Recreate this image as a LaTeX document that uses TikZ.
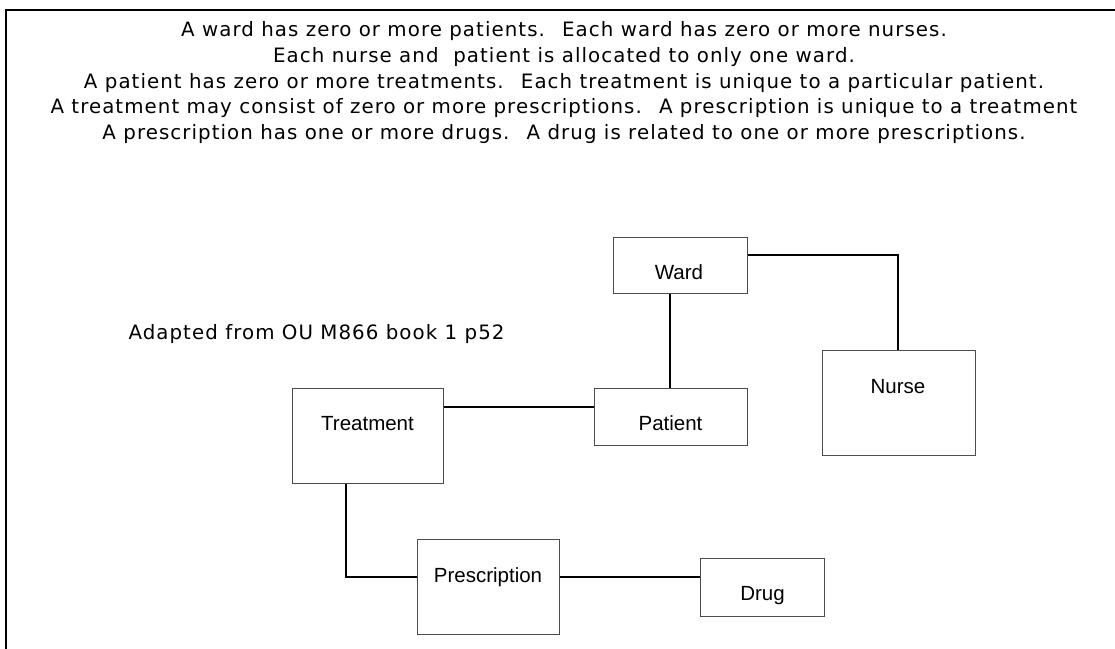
\documentclass[tikz,border=0pt]{standalone}
\usepackage{fontspec}
\setmainfont{Liberation Sans}
\newfontfamily\notefont[LetterSpace=5.4]{DejaVu Sans}
\usetikzlibrary{calc}
\tikzset{
  entity/.style={draw=black!70, line width=1pt, rectangle, inner sep=0pt, fill=white},
  elabel/.style={font=\fontsize{20.5}{24}\selectfont, anchor=base, inner sep=0pt},
  note/.style={font=\notefont\fontsize{19.8}{22}\selectfont, anchor=base, inner sep=0pt},
  link/.style={draw=black, line width=2pt},
}
\begin{document}
\begin{tikzpicture}[x=1pt,y=-1pt]
  \useasboundingbox (0,0) rectangle (1115,648);
  \begin{scope}
    \clip (0,0) rectangle (1115,648);
    % outer frame, running past the right and bottom edges
    \draw[line width=2pt] (6,10) rectangle (1130,670);
  \end{scope}

  % rules of the ward model
  \node[note] (h1) at (564,36.7) {A ward has zero or more patients.~ Each ward has zero or more nurses.};
  \node[note] (h2) at (564,62.3) {Each nurse and~ patient is allocated to only one ward.};
  \node[note] (h3) at (564,88.1) {A patient has zero or more treatments.~ Each treatment is unique to a particular patient.};
  \node[note] (h4) at (564,113.5) {A treatment may consist of zero or more prescriptions.~ A prescription is unique to a treatment};
  \node[note] (h5) at (564,139.2) {A prescription has one or more drugs.~ A drug is related to one or more prescriptions.};

  \node[note, anchor=base west] (src) at (128.3,339.5) {Adapted from OU M866 book 1 p52};

  % entities
  \node[entity, minimum width=134pt, minimum height=56pt] (ward) at (680,265) {};
  \node[entity, minimum width=153pt, minimum height=105pt] (nurse) at (898.5,402.5) {};
  \node[entity, minimum width=153pt, minimum height=57pt] (patient) at (670.5,416.5) {};
  \node[entity, minimum width=151pt, minimum height=95pt] (treatment) at (367.5,435.5) {};
  \node[entity, minimum width=142pt, minimum height=95pt] (presc) at (488,586.5) {};
  \node[entity, minimum width=124pt, minimum height=58pt] (drug) at (762,587) {};

  \node[elabel] (wardl) at (679,279) {Ward};
  \node[elabel] (nursel) at (898,393) {Nurse};
  \node[elabel] (patientl) at (670.5,430) {Patient};
  \node[elabel] (treatmentl) at (367.5,430) {Treatment};
  \node[elabel] (prescl) at (488,582) {Prescription};
  \node[elabel] (drugl) at (762.5,600) {Drug};

  % connector attachment points
  \coordinate (wardR) at ([yshift=-18pt]ward.north east);
  \coordinate (treatR) at ([yshift=-19pt]treatment.north east);
  \coordinate (treatB) at ([xshift=54pt]treatment.south west);
  \coordinate (prescL) at ([yshift=-38pt]presc.north west);
  \coordinate (prescR) at ([yshift=-38pt]presc.north east);

  % relationships
  \draw[link] (wardR) -| ([xshift=-0.5pt]nurse.north);
  \draw[link] ([xshift=-0.5pt]patient.north) -- ([xshift=-0.5pt]patient.north |- ward.south);
  \draw[link] (treatR) -- (patient.west |- treatR);
  \draw[link] (treatB) |- (prescL);
  \draw[link] (prescR) -- (drug.west |- prescR);
\end{tikzpicture}
\end{document}
